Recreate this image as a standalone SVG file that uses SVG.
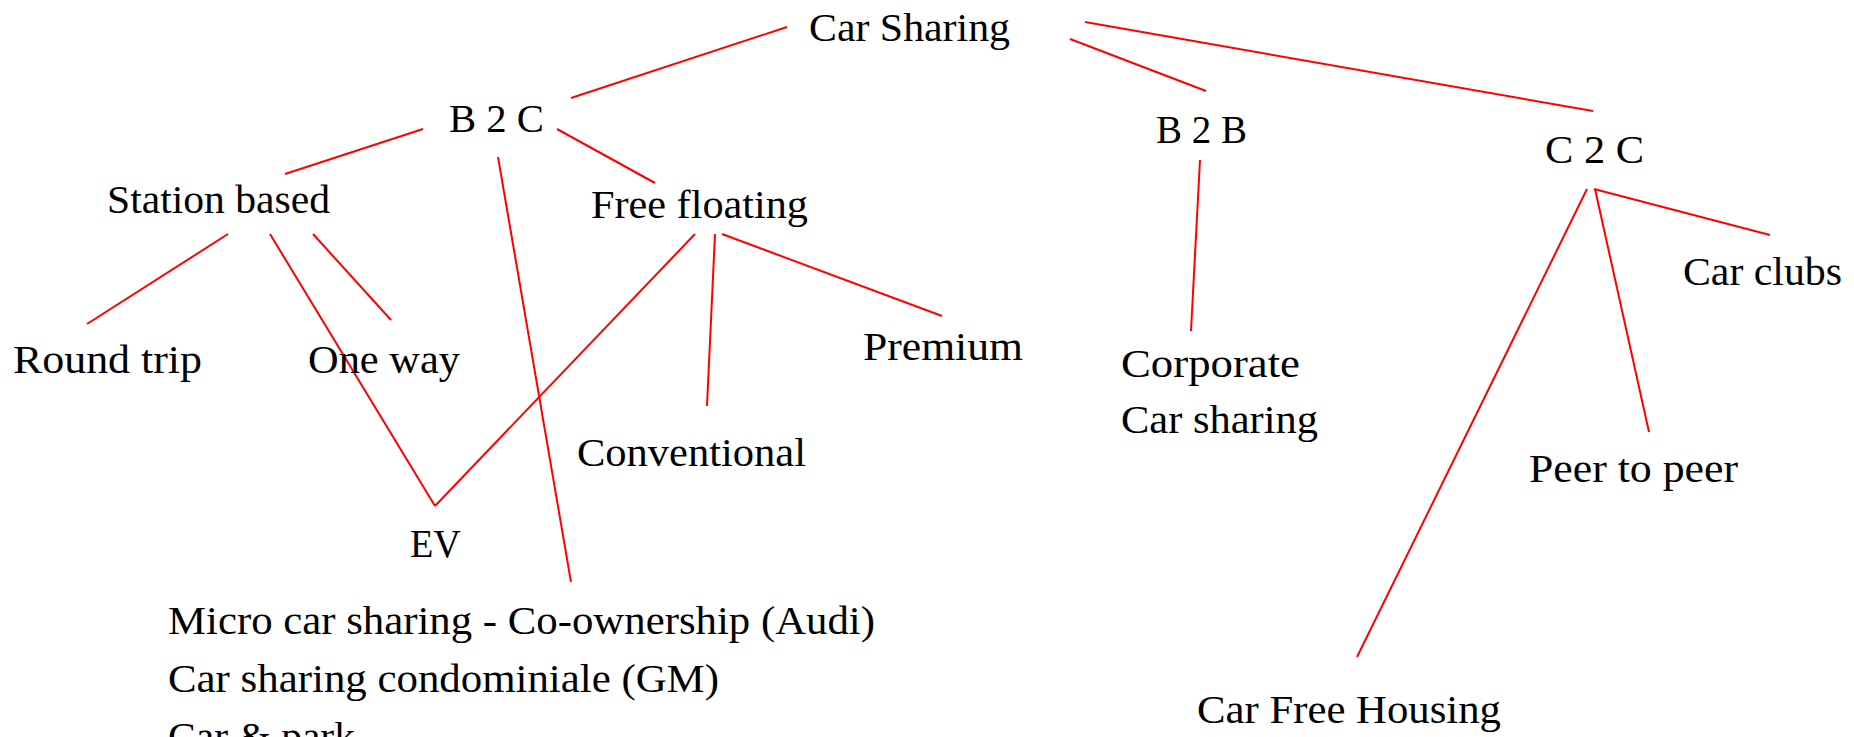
<svg xmlns="http://www.w3.org/2000/svg" width="1854" height="737" viewBox="0 0 1854 737">
<style>
text{font-family:"Liberation Serif","Times New Roman",serif;font-size:40px;fill:#000}
.c line{stroke:#ff0000;stroke-width:2;fill:none}
</style>
<rect width="1854" height="737" fill="#fff"/>
<g class="c" id="connectors">
<line x1="787" y1="27" x2="571" y2="98"/>
<line x1="1070" y1="39" x2="1206" y2="91"/>
<line x1="1085" y1="22" x2="1593" y2="111"/>
<line x1="1200" y1="160" x2="1191" y2="331"/>
<line x1="423" y1="129" x2="285" y2="174"/>
<line x1="557" y1="129" x2="655" y2="183"/>
<line x1="498" y1="157" x2="571" y2="582"/>
<line x1="228" y1="234" x2="87" y2="324"/>
<line x1="270" y1="234" x2="435" y2="506"/>
<line x1="313" y1="234" x2="391" y2="320"/>
<line x1="695" y1="234" x2="435" y2="506"/>
<line x1="715" y1="234" x2="707" y2="406"/>
<line x1="722" y1="234" x2="942" y2="316"/>
<line x1="1594" y1="189" x2="1770" y2="235"/>
<line x1="1587" y1="189" x2="1357" y2="657"/>
<line x1="1595" y1="189" x2="1649" y2="432"/>
</g>
<g id="car-sharing"><text x="809" y="41" textLength="201" lengthAdjust="spacingAndGlyphs">Car Sharing</text></g>
<g id="b2c"><text x="449" y="132" textLength="95" lengthAdjust="spacingAndGlyphs">B 2 C</text></g>
<g id="b2b"><text x="1156" y="143" textLength="91" lengthAdjust="spacingAndGlyphs">B 2 B</text></g>
<g id="c2c"><text x="1545" y="163" textLength="99" lengthAdjust="spacingAndGlyphs">C 2 C</text></g>
<g id="station-based"><text x="107" y="213" textLength="223" lengthAdjust="spacingAndGlyphs">Station based</text></g>
<g id="free-floating"><text x="591" y="218" textLength="217" lengthAdjust="spacingAndGlyphs">Free floating</text></g>
<g id="round-trip"><text x="13" y="373" textLength="189" lengthAdjust="spacingAndGlyphs">Round trip</text></g>
<g id="one-way"><text x="308" y="373" textLength="152" lengthAdjust="spacingAndGlyphs">One way</text></g>
<g id="premium"><text x="863" y="360" textLength="160" lengthAdjust="spacingAndGlyphs">Premium</text></g>
<g id="conventional"><text x="577" y="466" textLength="229" lengthAdjust="spacingAndGlyphs">Conventional</text></g>
<g id="corporate"><text x="1121" y="377" textLength="179" lengthAdjust="spacingAndGlyphs">Corporate</text><text x="1121" y="433" textLength="197" lengthAdjust="spacingAndGlyphs">Car sharing</text></g>
<g id="car-clubs"><text x="1683" y="285" textLength="159" lengthAdjust="spacingAndGlyphs">Car clubs</text></g>
<g id="peer-to-peer"><text x="1529" y="482" textLength="209" lengthAdjust="spacingAndGlyphs">Peer to peer</text></g>
<g id="car-free-housing"><text x="1197" y="723" textLength="304" lengthAdjust="spacingAndGlyphs">Car Free Housing</text></g>
<g id="ev"><text x="410" y="557" textLength="51" lengthAdjust="spacingAndGlyphs">EV</text></g>
<g id="micro"><text x="168" y="634" textLength="707" lengthAdjust="spacingAndGlyphs">Micro car sharing - Co-ownership (Audi)</text><text x="168" y="692" textLength="551" lengthAdjust="spacingAndGlyphs">Car sharing condominiale (GM)</text><text x="168" y="750" textLength="187" lengthAdjust="spacingAndGlyphs">Car &amp; park</text></g>
</svg>
